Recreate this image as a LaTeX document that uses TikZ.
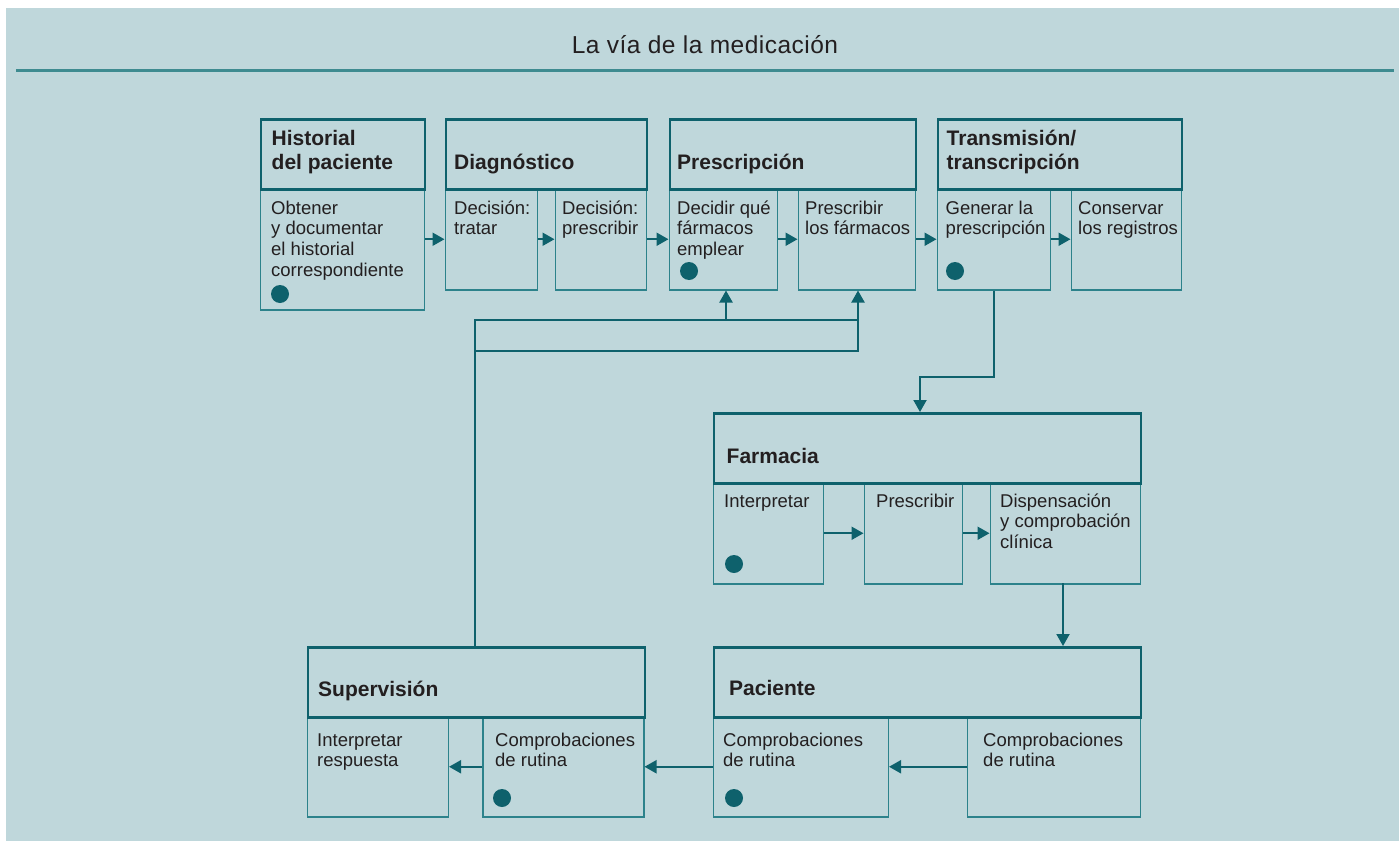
\documentclass[tikz,border=0pt]{standalone}
\usepackage{fontspec}
\setmainfont{Liberation Sans}
\usetikzlibrary{arrows.meta}
\definecolor{bgblue}{HTML}{BFD7DB}
\definecolor{tealdark}{HTML}{0E616C}
\definecolor{teallight}{HTML}{2C828B}
\definecolor{rulecol}{HTML}{3E8B90}
\definecolor{txt}{HTML}{231F20}
\newcommand{\mlines}[1]{\begin{tabular}[t]{@{}l@{}}#1\end{tabular}}
\tikzset{
  hdrbox/.style={draw=tealdark, line width=2.6pt, rectangle, inner sep=0pt, anchor=north west},
  subbox/.style={draw=teallight, line width=1.5pt, rectangle, inner sep=0pt, anchor=north west},
  hdrtext/.style={anchor=base west, inner sep=0pt, text=txt, font=\fontsize{21}{24}\selectfont\bfseries},
  bodytext/.style={anchor=base west, inner sep=0pt, text=txt, font=\fontsize{18.5}{20.7}\selectfont},
  conn/.style={draw=tealdark, line width=2pt},
  arr/.style={conn, -{Triangle[length=12pt,width=13pt]}},
  dot/.style={circle, fill=tealdark, inner sep=0pt, minimum size=18pt}
}
\begin{document}
\begin{tikzpicture}[x=1pt,y=-1pt]
\useasboundingbox (0,0) rectangle (1399,843);
\fill[white] (0,0) rectangle (1399,843);
\fill[bgblue] (6,8) rectangle (1399,841);
% title
\node[anchor=base, inner sep=0pt, text=txt, font=\fontsize{24.5}{28}\selectfont\addfontfeature{LetterSpace=2}] (title) at (705,54) {La vía de la medicación};
\draw[rulecol, line width=2.5pt] (16,70.5) -- (1394,70.5);

% ---------- Row 1 ----------
\node[subbox, minimum width=164pt, minimum height=121pt] (histb) at (259.5,188) {};
\node[hdrbox, minimum width=164pt, minimum height=70pt] (histh) at (259.5,118) {};

\node[subbox, minimum width=92pt, minimum height=101pt] (diag1) at (444.5,188) {};
\node[subbox, minimum width=91pt, minimum height=101pt] (diag2) at (554.5,188) {};
\node[hdrbox, minimum width=201pt, minimum height=70pt] (diagh) at (444.5,118) {};

\node[subbox, minimum width=108pt, minimum height=101pt] (presc1) at (668.5,188) {};
\node[subbox, minimum width=117pt, minimum height=101pt] (presc2) at (797.5,188) {};
\node[hdrbox, minimum width=246pt, minimum height=70pt] (presch) at (668.5,118) {};

\node[subbox, minimum width=113pt, minimum height=101pt] (trans1) at (936.5,188) {};
\node[subbox, minimum width=110pt, minimum height=101pt] (trans2) at (1070.5,188) {};
\node[hdrbox, minimum width=244pt, minimum height=70pt] (transh) at (936.5,118) {};

% row 1 texts
\node[hdrtext] (t-histh) at (271.5,145) {\mlines{Historial\\del paciente}};
\node[bodytext] (t-histb) at (271,214) {\mlines{Obtener\\y documentar\\el historial\\correspondiente}};
\node[hdrtext] (t-diagh) at (454,169) {Diagnóstico};
\node[bodytext] (t-diag1) at (454,214) {\mlines{Decisión:\\tratar}};
\node[bodytext] (t-diag2) at (562,214) {\mlines{Decisión:\\prescribir}};
\node[hdrtext] (t-presch) at (677,169) {Prescripción};
\node[bodytext] (t-presc1) at (677,214) {\mlines{Decidir qué\\fármacos\\emplear}};
\node[bodytext] (t-presc2) at (805,214) {\mlines{Prescribir\\los fármacos}};
\node[hdrtext] (t-transh) at (946.5,145) {\mlines{Transmisión/\\transcripción}};
\node[bodytext] (t-trans1) at (945.5,214) {\mlines{Generar la\\prescripción}};
\node[bodytext] (t-trans2) at (1078,214) {\mlines{Conservar\\los registros}};

\node[dot] (d1) at (280,294) {};
\node[dot] (d2) at (689,271) {};
\node[dot] (d3) at (955,271) {};

% row 1 arrows
\draw[arr] (diag1.west -| histb.east) -- (diag1.west);
\draw[arr] (diag1.east) -- (diag2.west);
\draw[arr] (diag2.east) -- (presc1.west);
\draw[arr] (presc1.east) -- (presc2.west);
\draw[arr] (presc2.east) -- (trans1.west);
\draw[arr] (trans1.east) -- (trans2.west);

% ---------- Farmacia ----------
\node[subbox, minimum width=110pt, minimum height=101pt] (farm1) at (712.5,482) {};
\node[subbox, minimum width=98pt, minimum height=101pt] (farm2) at (863.5,482) {};
\node[subbox, minimum width=150pt, minimum height=101pt] (farm3) at (989.5,482) {};
\node[hdrbox, minimum width=427pt, minimum height=70pt] (farmh) at (712.5,412) {};

\node[hdrtext] (t-farmh) at (726.5,463) {Farmacia};
\node[bodytext] (t-farm1) at (724,507) {Interpretar};
\node[bodytext] (t-farm2) at (876,507) {Prescribir};
\node[bodytext] (t-farm3) at (1000,507) {\mlines{Dispensación\\y comprobación\\clínica}};
\node[dot] (d4) at (734,564) {};

\draw[arr] (farm1.east) -- (farm2.west);
\draw[arr] (farm2.east) -- (farm3.west);

% ---------- Supervisión ----------
\node[subbox, minimum width=141pt, minimum height=100pt] (sup1) at (306.5,716) {};
\node[subbox, minimum width=161pt, minimum height=100pt] (sup2) at (482,716) {};
\node[hdrbox, minimum width=337pt, minimum height=70pt] (suph) at (306.5,646) {};

\node[hdrtext] (t-suph) at (318,696) {Supervisión};
\node[bodytext] (t-sup1) at (317,746) {\mlines{Interpretar\\respuesta}};
\node[bodytext] (t-sup2) at (495,746) {\mlines{Comprobaciones\\de rutina}};
\node[dot] (d5) at (502,798) {};

% ---------- Paciente ----------
\node[subbox, minimum width=175pt, minimum height=100pt] (pac1) at (712.5,716) {};
\node[subbox, minimum width=173pt, minimum height=100pt] (pac2) at (966.5,716) {};
\node[hdrbox, minimum width=427pt, minimum height=70pt] (pach) at (712.5,646) {};

\node[hdrtext] (t-pach) at (729,695) {Paciente};
\node[bodytext] (t-pac1) at (723,746) {\mlines{Comprobaciones\\de rutina}};
\node[bodytext] (t-pac2) at (983,746) {\mlines{Comprobaciones\\de rutina}};
\node[dot] (d6) at (734,798) {};

\draw[arr] (pac2.west) -- (pac1.east);
\draw[arr] (pac1.west) -- (sup2.east);
\draw[arr] (sup2.west) -- (sup1.west -| sup1.east);

% ---------- connectors between groups ----------
\coordinate (tdown) at (994,377);
\coordinate (tleft) at (920,377);
\draw[arr] (trans1.south -| tdown) -- (tdown) -- (tleft) -- (tleft |- farmh.north);
\coordinate (fd) at (1063,583);
\draw[arr] (fd) -- (fd |- pach.north);

\coordinate (fbA) at (475,320);
\coordinate (fbB) at (475,351);
\coordinate (fbC) at (858,351);
\coordinate (fbD) at (858,320);
\coordinate (fbE) at (726,320);
\draw[conn] (suph.north -| fbA) -- (fbA) -- (fbD);
\draw[conn] (fbB) -- (fbC) -- (fbD);
\draw[arr] (fbE) -- (fbE |- presc1.south);
\draw[arr] (fbD) -- (fbD |- presc2.south);
\end{tikzpicture}
\end{document}
